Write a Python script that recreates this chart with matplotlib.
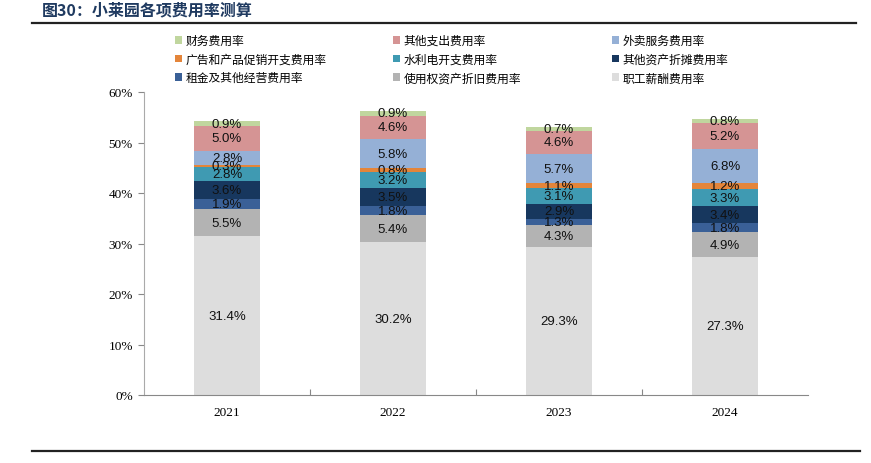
import matplotlib
matplotlib.use("Agg")
import matplotlib.pyplot as plt
from matplotlib.lines import Line2D
from matplotlib.patches import Patch
import numpy as np

plt.rcParams['font.family'] = ['Noto Sans CJK SC', 'DejaVu Sans']

years = ["2021", "2022", "2023", "2024"]
series_names = ["职工薪酬费用率", "使用权资产折旧费用率", "租金及其他经营费用率", "其他资产折摊费用率",
                "水利电开支费用率", "广告和产品促销开支费用率", "外卖服务费用率", "其他支出费用率", "财务费用率"]
staff = [31.4, 30.2, 29.3, 27.3]
rou_dep = [5.5, 5.4, 4.3, 4.9]
rent = [1.9, 1.8, 1.3, 1.8]
other_asset = [3.6, 3.5, 2.9, 3.4]
utilities = [2.8, 3.2, 3.1, 3.3]
advert = [0.3, 0.8, 1.1, 1.2]
delivery = [2.8, 5.8, 5.7, 6.8]
other_exp = [5.0, 4.6, 4.6, 5.2]
finance = [0.9, 0.9, 0.7, 0.8]
series_values = [staff, rou_dep, rent, other_asset, utilities, advert, delivery, other_exp, finance]
colors = ["#DDDDDD", "#B3B3B3", "#3A6097", "#17375E", "#3F9AB2", "#E4853A", "#95B0D6", "#D59494", "#C0D69E"]
y_ticks = [0, 10, 20, 30, 40, 50, 60]

fig = plt.figure(figsize=(8.71, 4.64), dpi=100)
ax = fig.add_axes([144/871, (464-396)/464, (808-144)/871, (396-93)/464])

x = np.arange(len(years))
bottom = np.zeros(len(years))
for name, vals, c in zip(series_names, series_values, colors):
    v = np.array(vals, dtype=float)
    ax.bar(x, v, bottom=bottom, width=0.40, color=c, label=name, edgecolor='none', zorder=2)
    for xi, vi, bi in zip(x, v, bottom):
        ax.text(xi, bi + vi/2, f"{vi:.1f}%", ha='center', va='center', fontsize=9.5,
                family=['Liberation Sans'], color='#111111', zorder=3)
    bottom += v

ax.set_xlim(-0.5, len(years)-0.5)
ax.set_ylim(0, 60)
ax.set_yticks(y_ticks)
ax.set_yticklabels([f"{t}%" for t in y_ticks], family=['Liberation Serif'], fontsize=9.5)
ax.set_xticks([i + 0.5 for i in range(len(years)-1)], minor=False)
ax.set_xticklabels([])
ax.set_xticks(x, minor=True)
ax.set_xticklabels(years, minor=True, family=['Liberation Serif'], fontsize=9.5)
ax.tick_params(axis='x', which='major', direction='in', length=4, color='#888888')
ax.tick_params(axis='x', which='minor', length=0, pad=8)
ax.tick_params(axis='y', direction='out', length=4, color='#888888', pad=4)
for s in ['top', 'right']:
    ax.spines[s].set_visible(False)
ax.spines['left'].set_color('#AAAAAA')
ax.spines['bottom'].set_color('#888888')

# legends: three columns, row-wise order as in reference
order = [[8, 5, 2], [7, 4, 1], [6, 3, 0]]
col_x = [175, 393, 612]
for cx, idxs in zip(col_x, order):
    handles = [Patch(facecolor=colors[i], edgecolor='none') for i in idxs]
    labels = [series_names[i] for i in idxs]
    fig.legend(handles, labels, loc='upper left', bbox_to_anchor=(cx/871, 1 - 35/464),
               frameon=False, fontsize=8.5, handlelength=0.6, handleheight=0.6,
               handletextpad=0.3, labelspacing=0.48, borderaxespad=0, borderpad=0)

fig.text(42/871, 1 - 10/464, "图30：小莱园各项费用率测算", ha='left', va='center', fontsize=11.5,
         fontweight='bold', color='#1F3A60')
fig.add_artist(Line2D([32/871, 856/871], [1 - 24/464, 1 - 24/464], color='#222222', linewidth=1.6))
fig.add_artist(Line2D([32/871, 860/871], [1 - 452/464, 1 - 452/464], color='#222222', linewidth=1.6))

fig.savefig("out.png", dpi=100)
